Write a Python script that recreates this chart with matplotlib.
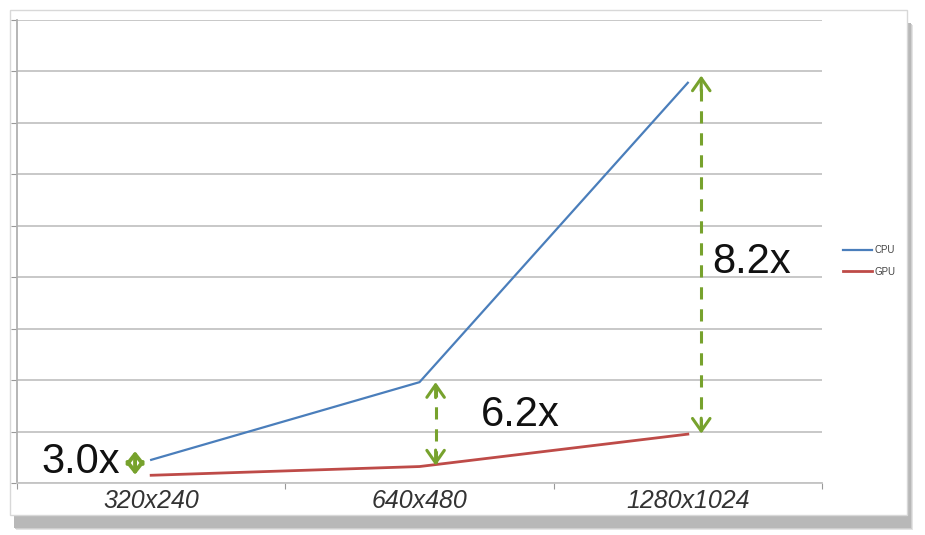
import matplotlib.pyplot as plt
from matplotlib.patches import Rectangle

# data
resolutions = ['320x240', '640x480', '1280x1024']
cpu_time = [0.45, 1.96, 7.78]
gpu_time = [0.15, 0.32, 0.95]
speedups = ['3.0x', '6.2x', '8.2x']

plt.rcParams['font.family'] = ['Liberation Sans', 'DejaVu Sans']

fig = plt.figure(figsize=(9.25, 5.35), dpi=100)
W, H = 925, 535

# framed "screenshot" box with a drop shadow
for off, c in [(6, '#e4e4e4'), (5, '#cfcfcf'), (4, '#b8b8b8')]:
    fig.patches.append(Rectangle((10 / W + off / W, 10 / H - off / H + 1 / H), 897 / W, 505 / H,
                                 transform=fig.transFigure, facecolor=c, edgecolor='none', zorder=0))
fig.patches.append(Rectangle((10 / W, 20 / H), 897 / W, 505 / H, transform=fig.transFigure,
                             facecolor='white', edgecolor='#d8d8d8', linewidth=1, zorder=1))

ax = fig.add_axes([17 / W, (535 - 483) / H, (822 - 17) / W, (483 - 20) / H])
ax.set_facecolor('none')
ax.set_zorder(2)

x = list(range(len(resolutions)))
ax.plot(x, cpu_time, color='#4a7ebb', linewidth=1.6, label='CPU', zorder=3)
ax.plot(x, gpu_time, color='#be4b48', linewidth=2.0, label='GPU', zorder=3)

ax.set_xlim(-0.5, 2.5)
ax.set_ylim(0, 9)
ax.set_yticks(range(0, 10))
ax.set_yticklabels([])
ax.yaxis.grid(True, color='#c4c4c4', linewidth=1.3)
ax.set_axisbelow(True)

ax.set_xticks([-0.5, 0.5, 1.5, 2.5])
ax.set_xticklabels([])
ax.set_xticks(x, minor=True)
ax.set_xticklabels(resolutions, minor=True, fontsize=18, style='italic', color='#333333')
ax.tick_params(axis='x', which='minor', length=0, pad=4)
ax.tick_params(axis='x', which='major', length=4, color='#999999', direction='out')
ax.tick_params(axis='y', length=4, color='#999999', direction='out')

for side in ['top', 'right']:
    ax.spines[side].set_visible(False)
ax.spines['left'].set_color('#b0b0b0')
ax.spines['left'].set_linewidth(1.3)
ax.spines['bottom'].set_color('#c4c4c4')
ax.spines['bottom'].set_linewidth(1.3)

# speed-up arrows: dashed shaft plus solid open heads
green = '#77a22d'
arrow_x = [-0.06, 1.06, 2.05]
arrow_top = [0.62, 1.96, 7.92]
arrow_bot = [0.16, 0.34, 0.96]
for i, (xa, yt, yb) in enumerate(zip(arrow_x, arrow_top, arrow_bot)):
    if i == 0:
        ax.annotate('', xy=(xa, yt), xytext=(xa, yb),
                    arrowprops=dict(arrowstyle='<->,head_length=0.7,head_width=0.55', color=green,
                                    linewidth=2.8, mutation_scale=10, shrinkA=0, shrinkB=0), zorder=4)
        continue
    ax.plot([xa, xa], [yb + 0.05, yt - 0.05], color=green, linewidth=2.2,
            linestyle=(0, (4, 3.2)), zorder=4)
    for tip, tail in [(yt, yt - 0.3), (yb, yb + 0.3)]:
        ax.annotate('', xy=(xa, tip), xytext=(xa, tail),
                    arrowprops=dict(arrowstyle='->,head_length=0.6,head_width=0.42', color=green,
                                    linewidth=2.2, mutation_scale=15, shrinkA=0, shrinkB=0), zorder=4)

ax.text(-0.41, 0.41, speedups[0], fontsize=30, va='center', ha='left', color='#111111')
ax.text(1.23, 1.32, speedups[1], fontsize=30, va='center', ha='left', color='#111111')
ax.text(2.09, 4.3, speedups[2], fontsize=30, va='center', ha='left', color='#111111')

ax.legend(loc='center left', bbox_to_anchor=(1.015, 0.48), frameon=False, fontsize=7,
          handlelength=3.0, handletextpad=0.3, labelspacing=1.2, labelcolor='#444444')

fig.savefig('out.png', dpi=100)
